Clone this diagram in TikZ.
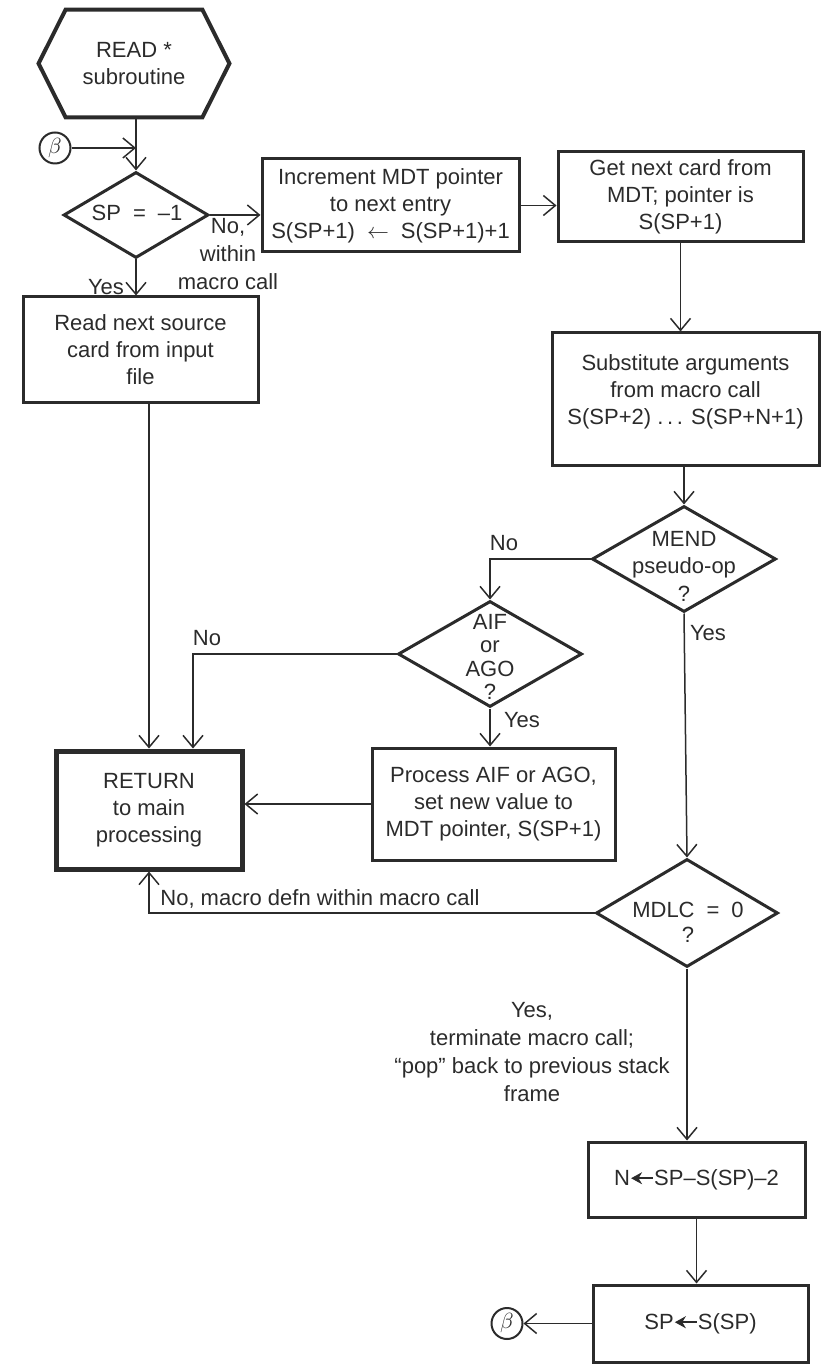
\documentclass[tikz,border=0pt]{standalone}
\usepackage{fontspec}
\setmainfont{Liberation Sans}
\usetikzlibrary{arrows.meta,shapes.geometric,calc}
\definecolor{ink}{HTML}{2B2B2B}
\newcommand{\filarr}{\tikz[baseline=-0.6ex]\draw[ink,line width=1.1pt,{Stealth[length=5.5pt,width=6pt]}-](0,0)--(11pt,0);}
\begin{document}
\begin{tikzpicture}[x=0.5pt,y=-0.5pt,
  every node/.style={font=\fontsize{11}{13.5}\selectfont, text=ink},
  box/.style={draw=ink, line width=1.5pt, rectangle, align=center, inner sep=2pt},
  dia/.style={draw=ink, line width=1.5pt, diamond, inner sep=0pt},
  lbl/.style={align=center, inner sep=0pt},
  arr/.style={draw=ink, line width=0.75pt, -{Straight Barb[length=6pt,width=10pt]}},
  circ/.style={draw=ink, line width=1pt, circle, minimum size=15.5pt, inner sep=0pt}
]
\useasboundingbox (0,0) rectangle (821,1368);

% hexagon
\node[minimum width=95pt, minimum height=53.5pt, inner sep=0pt, align=center] (read) at (134,63.5) {READ *\\subroutine};
\draw[ink, line width=2pt] (read.west) -- ([xshift=13.5pt]read.north west) -- ([xshift=-13.5pt]read.north east) -- (read.east) -- ([xshift=-13.5pt]read.south east) -- ([xshift=13.5pt]read.south west) -- cycle;

\node[circ] (beta1) at (55,148) {$\beta$};

% decisions
\node[dia, minimum width=72.5pt, minimum height=43pt] (spd) at (136,215) {};
\node[lbl] (spdtxt) at (137,213) {SP\hspace{6pt}=\hspace{6pt}–1};

\node[dia, minimum width=92pt, minimum height=53pt] (mend) at (684,559) {};
\node[lbl, font=\fontsize{11}{13.75}\selectfont] (mendtxt) at (684,566) {MEND\\pseudo-op\\?};

\node[dia, minimum width=92pt, minimum height=53pt] (aif) at (490,654) {};
\node[lbl, font=\fontsize{11}{11.7}\selectfont] (aiftxt) at (490,657) {AIF\\or\\AGO\\?};

\node[dia, minimum width=91pt, minimum height=54pt] (mdlc) at (687,913) {};
\node[lbl, font=\fontsize{11}{12.5}\selectfont] (mdlctxt) at (688,922) {MDLC\hspace{6pt}=\hspace{6pt}0\\?};

% boxes
\node[box, minimum width=117.5pt, minimum height=53pt] (readbox) at (140.5,350) {Read next source\\card from input\\file};
\node[box, minimum width=128.5pt, minimum height=46.5pt] (inc) at (390.5,205.5) {Increment MDT pointer\\to next entry\\S(SP+1)\hspace{6pt}$\leftarrow$\hspace{6pt}S(SP+1)+1};
\node[box, minimum width=122.5pt, minimum height=45pt] (get) at (680.5,197) {Get next card from\\MDT; pointer is\\S(SP+1)};
\node[box, minimum width=133.5pt, minimum height=66.5pt, text depth=10pt] (sub) at (685.5,399.5) {Substitute arguments\\from macro call\\S(SP+2) .\,.\,. S(SP+N+1)};
\node[box, line width=2.5pt, minimum width=93pt, minimum height=59pt] (ret) at (149,810) {RETURN\\to main\\processing};
\node[box, minimum width=121.5pt, minimum height=56pt] (proc) at (493.5,804) {Process AIF or AGO,\\set new value to\\MDT pointer, S(SP+1)};
\node[box, minimum width=108.5pt, minimum height=37.5pt] (nbox) at (696.5,1179.5) {N\filarr SP–S(SP)–2};
\node[box, minimum width=107.5pt, minimum height=38.5pt] (spbox) at (700.5,1323.5) {SP\filarr S(SP)};

\node[circ] (beta2) at (507,1323.5) {$\beta$};

% connectors
\draw[arr] (read.south -| spd.north) -- (spd.north);
\draw[arr] (beta1) -- (beta1 -| spd.north);
\draw[arr] (spd.east) -- (spd.east -| inc.west);
\draw[arr] (spd.south) -- (spd.south |- readbox.north);
\draw[arr] (inc.east) -- (inc.east -| get.west);
\draw[arr] (get.south) -- (get.south |- sub.north);
\draw[arr] (sub.south -| mend.north) -- (mend.north);
\draw[arr] (mend.west) -| (aif.north);
\draw[arr] (aif.west) -| ([xshift=22pt]ret.north);
\draw[arr] (readbox.south -| ret.north) -- (ret.north);
\draw[arr] (aif.south) -- (aif.south |- proc.north);
\draw[arr] (proc.west) -- (proc.west -| ret.east);
\draw[arr] (mend.south) -- (mdlc.north);
\draw[arr] (mdlc.west) -| (ret.south);
\draw[arr] (mdlc.south) -- (mdlc.south |- nbox.north);
\draw[arr] (nbox.south) -- (nbox.south |- spbox.north);
\draw[arr] (spbox.west) -- (beta2);

% labels
\node[lbl] (yes1) at (106,287) {Yes};
\node[lbl, font=\fontsize{11}{14}\selectfont] (no1) at (228,254) {No,\\within\\macro call};
\node[lbl] (no2) at (504,543) {No};
\node[lbl] (no3) at (207,638) {No};
\node[lbl] (yes2) at (522,720) {Yes};
\node[lbl] (yes3) at (708,633) {Yes};
\node[lbl, anchor=west] (no4) at (160,899) {No, macro defn within macro call};
\node[lbl, font=\fontsize{11}{14}\selectfont] (yes4) at (532,1052) {Yes,\\terminate macro call;\\“pop” back to previous stack\\frame};
\end{tikzpicture}
\end{document}
